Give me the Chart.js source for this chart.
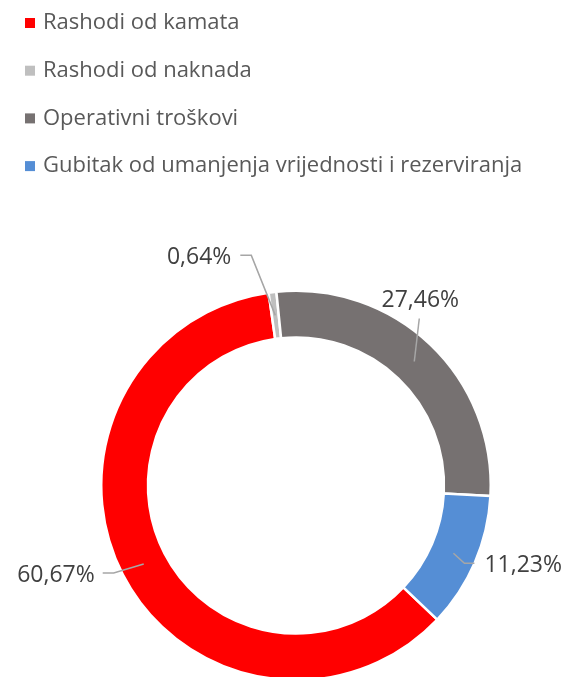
<!DOCTYPE html>
<html>
<head>
<meta charset="utf-8">
<script src="https://cdn.jsdelivr.net/npm/chart.js@4/dist/chart.umd.min.js"></script>
<style>
  html, body { margin: 0; padding: 0; background: #fff; overflow: hidden; }
  #wrap { width: 568px; height: 690px; position: relative; }
</style>
</head>
<body>
<div id="wrap"><canvas id="donut"></canvas></div>
<script>
// data
var categories = ['Rashodi od kamata', 'Rashodi od naknada', 'Operativni troškovi', 'Gubitak od umanjenja vrijednosti i rezerviranja'];
var shares = [60.67, 0.64, 27.46, 11.23];
var sliceColors = ['#FF0000', '#BFBFBF', '#767171', '#558ED5'];

// leader line / label placement, relative to the middle of each ring segment
var labelLayout = [
    { elbow: [-30, 9], end: [-41, 9], text: [-49, 11], align: 'right' },
    { elbow: [-24, -60], end: [-35, -60], text: [-44, -58], align: 'right' },
    { elbow: [5, -43], end: [5, -43], text: [6, -61], align: 'center' },
    { elbow: [11, 10], end: [21, 10], text: [31, 12], align: 'left' }
];

var FONT = '"Open Sans", "Noto Sans", sans-serif';

function pct(v) {
    return v.toFixed(2).replace('.', ',') + '%';
}

var legendPlugin = {
    id: 'listLegend',
    afterDraw: function (chart) {
        var ctx = chart.ctx;
        ctx.save();
        ctx.font = '22px ' + FONT;
        ctx.textBaseline = 'middle';
        ctx.textAlign = 'left';
        chart.data.labels.forEach(function (lab, i) {
            var y = 23 + i * 47.7;
            ctx.fillStyle = chart.data.datasets[0].backgroundColor[i];
            ctx.fillRect(25, y - 5, 10, 10);
            ctx.fillStyle = '#595959';
            ctx.fillText(lab, 43, y);
        });
        ctx.restore();
    }
};

var labelPlugin = {
    id: 'leaderLabels',
    afterDatasetsDraw: function (chart) {
        var ctx = chart.ctx;
        var meta = chart.getDatasetMeta(0);
        var vals = chart.data.datasets[0].data;
        ctx.save();
        meta.data.forEach(function (arc, i) {
            var p = arc.getProps(['x', 'y', 'startAngle', 'endAngle', 'innerRadius', 'outerRadius'], true);
            var mid = (p.startAngle + p.endAngle) / 2;
            var r = (p.innerRadius + p.outerRadius) / 2;
            var ax = p.x + Math.cos(mid) * r;
            var ay = p.y + Math.sin(mid) * r;
            var L = labelLayout[i];
            ctx.strokeStyle = '#A6A6A6';
            ctx.lineWidth = 1.5;
            ctx.beginPath();
            ctx.moveTo(ax, ay);
            ctx.lineTo(ax + L.elbow[0], ay + L.elbow[1]);
            ctx.lineTo(ax + L.end[0], ay + L.end[1]);
            ctx.stroke();
            ctx.fillStyle = '#404040';
            ctx.font = '23px ' + FONT;
            ctx.textAlign = L.align;
            ctx.textBaseline = 'middle';
            ctx.fillText(pct(vals[i]), ax + L.text[0], ay + L.text[1]);
        });
        ctx.restore();
    }
};

new Chart(document.getElementById('donut'), {
    type: 'doughnut',
    data: {
        labels: categories,
        datasets: [{
            data: shares,
            backgroundColor: sliceColors,
            borderColor: '#ffffff',
            borderWidth: 2.5
        }]
    },
    options: {
        responsive: true,
        maintainAspectRatio: false,
        animation: false,
        rotation: 133.5,
        cutout: '76%',
        layout: { padding: { top: 289, left: 100, right: 76, bottom: 8 } },
        plugins: {
            legend: { display: false },
            tooltip: { enabled: false }
        }
    },
    plugins: [legendPlugin, labelPlugin]
});
</script>
</body>
</html>
